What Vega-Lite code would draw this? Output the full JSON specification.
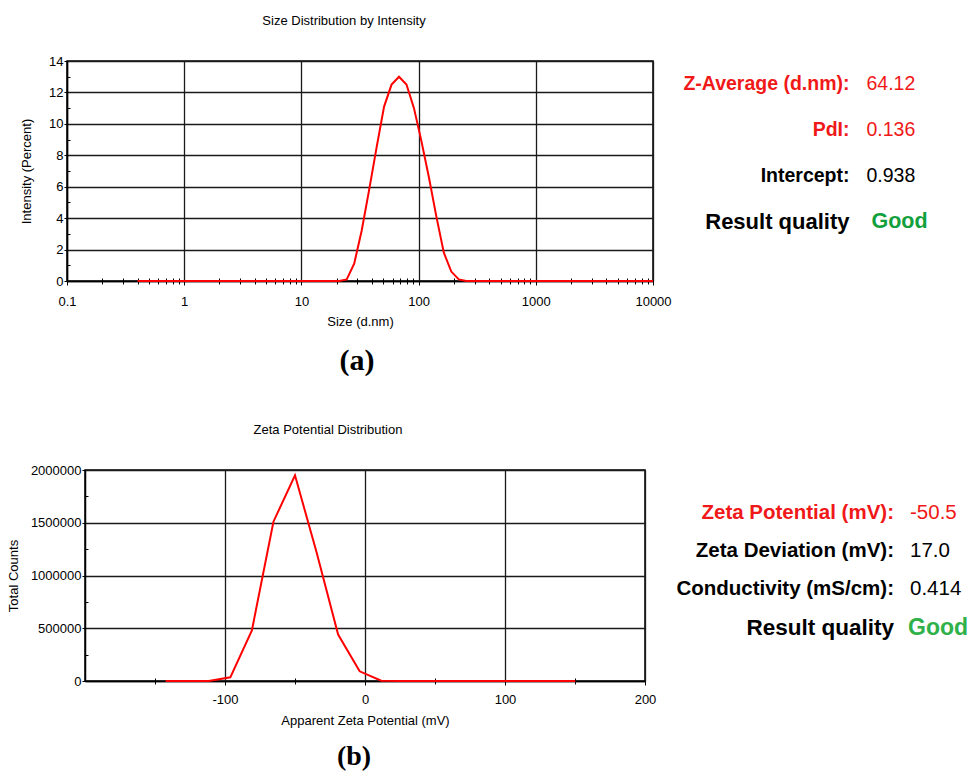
{
  "$schema": "https://vega.github.io/schema/vega-lite/v6.json",
  "background": "white",
  "padding": {"left": 6, "top": 15, "right": -20, "bottom": 0},
  "columns": 1,
  "center": true,
  "spacing": 47,
  "concat": [
    {
      "title": {"text": "Size Distribution by Intensity", "anchor": "start", "align": "center", "frame": "group", "dx": 277, "offset": 26},
      "spacing": 8,
      "hconcat": [
        {
          "width": 586,
          "height": 220,
          "title": {"text": "(a)", "orient": "bottom", "frame": "group", "anchor": "middle", "dx": -3, "offset": 18, "font": "Liberation Serif", "fontWeight": "bold", "fontSize": 30},
          "data": {
            "values": [
              {"size": 0.4, "intensity": 0},
              {"size": 18.17, "intensity": 0},
              {"size": 21.04, "intensity": 0},
              {"size": 24.36, "intensity": 0.1},
              {"size": 28.21, "intensity": 1.1},
              {"size": 32.67, "intensity": 3.2},
              {"size": 37.84, "intensity": 5.8},
              {"size": 43.82, "intensity": 8.5},
              {"size": 50.75, "intensity": 11.1},
              {"size": 58.77, "intensity": 12.5},
              {"size": 68.06, "intensity": 13.0},
              {"size": 78.82, "intensity": 12.5},
              {"size": 91.28, "intensity": 11.0},
              {"size": 105.7, "intensity": 8.9},
              {"size": 122.4, "intensity": 6.6},
              {"size": 141.8, "intensity": 4.1},
              {"size": 164.2, "intensity": 1.8},
              {"size": 190.1, "intensity": 0.6},
              {"size": 220.2, "intensity": 0.1},
              {"size": 255.0, "intensity": 0},
              {"size": 10000, "intensity": 0}
            ]
          },
          "layer": [
            {
              "mark": {"type": "line", "color": "#ff0000", "strokeWidth": 2},
              "encoding": {
                "x": {
                  "field": "size", "type": "quantitative",
                  "scale": {"type": "log", "domain": [0.1, 10000]},
                  "axis": {"values": [0.1, 1, 10, 100, 1000, 10000], "format": "~g", "title": "Size (d.nm)", "tickSize": 4, "labelPadding": 10, "titlePadding": 7, "labelFlush": false, "labelOverlap": false}
                },
                "y": {
                  "field": "intensity", "type": "quantitative",
                  "scale": {"domain": [0, 14]},
                  "axis": {"values": [0, 2, 4, 6, 8, 10, 12, 14], "title": "Intensity (Percent)", "tickSize": 3, "labelPadding": 1, "titlePadding": 15}
                }
              }
            },
            {
              "mark": {"type": "line", "strokeOpacity": 0},
              "encoding": {
                "x": {
                  "field": "size", "type": "quantitative",
                  "axis": {"orient": "bottom", "values": [0.2, 0.3, 0.4, 0.5, 0.6, 0.7, 0.8, 0.9, 2, 3, 4, 5, 6, 7, 8, 9, 20, 30, 40, 50, 60, 70, 80, 90, 200, 300, 400, 500, 600, 700, 800, 900, 2000, 3000, 4000, 5000, 6000, 7000, 8000, 9000], "offset": -3, "tickSize": 6, "labels": false, "domain": false, "grid": false, "title": null}
                },
                "y": {
                  "field": "intensity", "type": "quantitative",
                  "axis": {"orient": "left", "values": [1, 3, 5, 7, 9, 11, 13], "offset": -3, "tickSize": 3, "labels": false, "domain": false, "grid": false, "title": null}
                }
              }
            }
          ],
          "resolve": {"axis": {"x": "independent", "y": "independent"}}
        },
        {
          "width": 309,
          "height": 184,
          "view": {"stroke": null},
          "data": {
            "values": [
              {"row": 1, "label": "Z-Average (d.nm):", "value": "64.12", "kind": "key"},
              {"row": 2, "label": "PdI:", "value": "0.136", "kind": "key"},
              {"row": 3, "label": "Intercept:", "value": "0.938", "kind": "plain"},
              {"row": 4, "label": "Result quality", "value": "Good", "kind": "quality"}
            ]
          },
          "encoding": {
            "y": {"field": "row", "type": "ordinal", "axis": null, "scale": {"type": "point", "padding": 0.5}}
          },
          "layer": [
            {
              "mark": {"type": "text", "align": "right", "baseline": "middle", "dx": 15, "font": "Liberation Sans", "fontWeight": "bold"},
              "encoding": {
                "text": {"field": "label"},
                "color": {"condition": {"test": "datum.kind == 'key'", "value": "#f01818"}, "value": "black"},
                "size": {"condition": {"test": "datum.kind == 'quality'", "value": 22}, "value": 19.5}
              }
            },
            {
              "transform": [{"filter": "datum.kind != 'quality'"}],
              "mark": {"type": "text", "align": "left", "baseline": "middle", "dx": 32, "font": "Liberation Sans", "fontSize": 19.5},
              "encoding": {
                "text": {"field": "value"},
                "color": {"condition": {"test": "datum.kind == 'key'", "value": "#f01818"}, "value": "black"}
              }
            },
            {
              "transform": [{"filter": "datum.kind == 'quality'"}],
              "mark": {"type": "text", "align": "left", "baseline": "middle", "dx": 37, "font": "Liberation Sans", "fontWeight": "bold", "fontSize": 21.5, "color": "#12a03c"},
              "encoding": {"text": {"field": "value"}}
            }
          ]
        }
      ]
    },
    {
      "title": {"text": "Zeta Potential Distribution", "anchor": "start", "align": "center", "frame": "group", "dx": 243, "offset": 26},
      "spacing": 8,
      "hconcat": [
        {
          "width": 560,
          "height": 211,
          "title": {"text": "(b)", "orient": "bottom", "frame": "group", "anchor": "middle", "dx": -11, "offset": 16, "font": "Liberation Serif", "fontWeight": "bold", "fontSize": 28},
          "data": {
            "values": [
              {"potential": -142.4, "counts": 0},
              {"potential": -127.0, "counts": 0},
              {"potential": -111.6, "counts": 0},
              {"potential": -96.2, "counts": 35000},
              {"potential": -80.8, "counts": 480000},
              {"potential": -65.4, "counts": 1510000},
              {"potential": -50.0, "counts": 1950000},
              {"potential": -34.6, "counts": 1220000},
              {"potential": -19.2, "counts": 440000},
              {"potential": -3.8, "counts": 92000},
              {"potential": 11.6, "counts": 3000},
              {"potential": 27.0, "counts": 0},
              {"potential": 42.4, "counts": 0},
              {"potential": 57.8, "counts": 0},
              {"potential": 73.2, "counts": 0},
              {"potential": 88.6, "counts": 0},
              {"potential": 104.0, "counts": 0},
              {"potential": 119.4, "counts": 0},
              {"potential": 134.8, "counts": 0},
              {"potential": 150.2, "counts": 0}
            ]
          },
          "layer": [
            {
              "mark": {"type": "line", "color": "#ff0000", "strokeWidth": 2},
              "encoding": {
                "x": {
                  "field": "potential", "type": "quantitative",
                  "scale": {"domain": [-200, 200]},
                  "axis": {"values": [-100, 0, 100, 200], "labelExpr": "'' + datum.value", "title": "Apparent Zeta Potential (mV)", "tickSize": 4, "labelPadding": 8, "titlePadding": 8, "labelFlush": false, "labelOverlap": false}
                },
                "y": {
                  "field": "counts", "type": "quantitative",
                  "scale": {"domain": [0, 2000000]},
                  "axis": {"values": [0, 500000, 1000000, 1500000, 2000000], "format": "d", "title": "Total Counts", "tickSize": 3, "labelPadding": 1, "titlePadding": 10}
                }
              }
            },
            {
              "mark": {"type": "line", "strokeOpacity": 0},
              "encoding": {
                "x": {
                  "field": "potential", "type": "quantitative",
                  "axis": {"orient": "bottom", "values": [-150, -50, 50, 150], "offset": -3, "tickSize": 6, "labels": false, "domain": false, "grid": false, "title": null}
                },
                "y": {
                  "field": "counts", "type": "quantitative",
                  "axis": {"orient": "left", "values": [250000, 750000, 1250000, 1750000], "offset": -3, "tickSize": 3, "labels": false, "domain": false, "grid": false, "title": null}
                }
              }
            }
          ],
          "resolve": {"axis": {"x": "independent", "y": "independent"}}
        },
        {
          "width": 306,
          "height": 211,
          "view": {"stroke": null},
          "data": {
            "values": [
              {"row": 1, "label": "Zeta Potential (mV):", "value": "-50.5", "kind": "key"},
              {"row": 2, "label": "Zeta Deviation (mV):", "value": "17.0", "kind": "plain"},
              {"row": 3, "label": "Conductivity (mS/cm):", "value": "0.414", "kind": "plain"},
              {"row": 4, "label": "Result quality", "value": "Good", "kind": "quality"}
            ]
          },
          "encoding": {
            "y": {"field": "row", "type": "quantitative", "axis": null, "scale": {"domain": [-0.115, 5.394], "reverse": true, "nice": false, "zero": false}}
          },
          "layer": [
            {
              "mark": {"type": "text", "align": "right", "baseline": "middle", "dx": 76, "font": "Liberation Sans", "fontWeight": "bold"},
              "encoding": {
                "text": {"field": "label"},
                "color": {"condition": {"test": "datum.kind == 'key'", "value": "#f01818"}, "value": "black"},
                "size": {"condition": {"test": "datum.kind == 'quality'", "value": 22.5}, "value": 20.5}
              }
            },
            {
              "transform": [{"filter": "datum.kind != 'quality'"}],
              "mark": {"type": "text", "align": "left", "baseline": "middle", "dx": 92, "font": "Liberation Sans", "fontSize": 20.5},
              "encoding": {
                "text": {"field": "value"},
                "color": {"condition": {"test": "datum.kind == 'key'", "value": "#f01818"}, "value": "black"}
              }
            },
            {
              "transform": [{"filter": "datum.kind == 'quality'"}],
              "mark": {"type": "text", "align": "left", "baseline": "middle", "dx": 90, "font": "Liberation Sans", "fontWeight": "bold", "fontSize": 23, "color": "#2fb14a"},
              "encoding": {"text": {"field": "value"}}
            }
          ]
        }
      ]
    }
  ],
  "config": {
    "font": "Liberation Sans",
    "view": {"stroke": "black", "strokeWidth": 1.5},
    "axis": {
      "labelFont": "Liberation Sans", "labelFontSize": 13, "labelColor": "black",
      "titleFont": "Liberation Sans", "titleFontSize": 13, "titleFontWeight": "normal", "titleColor": "black",
      "domainColor": "black", "domainWidth": 1.5, "tickColor": "black", "tickWidth": 1,
      "gridColor": "#1a1a1a", "gridWidth": 1.3, "gridOpacity": 1
    },
    "title": {"font": "Liberation Sans", "fontSize": 13, "fontWeight": "normal", "color": "black"}
  }
}
